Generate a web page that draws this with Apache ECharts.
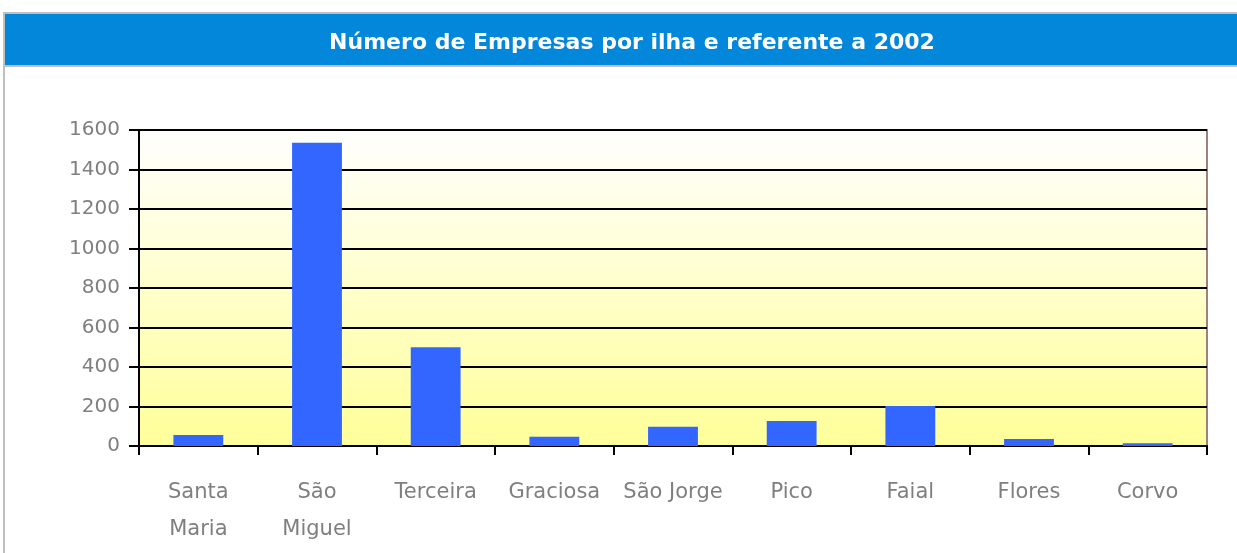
<!DOCTYPE html>
<html>
<head>
<meta charset="utf-8">
<script src="https://cdn.jsdelivr.net/npm/echarts@6/dist/echarts.min.js"></script>
<style>
  html, body { margin: 0; padding: 0; background: #fff; }
  #main { width: 1237px; height: 553px; }
</style>
</head>
<body>
<div id="main"></div>
<script>
// dados
var ilhas = ['Santa\nMaria', 'São\nMiguel', 'Terceira', 'Graciosa', 'São Jorge', 'Pico', 'Faial', 'Flores', 'Corvo'];
var empresas = [56, 1535, 500, 47, 98, 127, 202, 35, 14];
var titulo = 'Número de Empresas por ilha e referente a 2002';

var myChart = echarts.init(document.getElementById('main'));

var option = {
    backgroundColor: '#fff',
    animation: false,
    graphic: [
        // faixa azul do titulo
        { type: 'rect', shape: { x: 4, y: 14, width: 1233, height: 51 }, style: { fill: '#0387da' } },
        // moldura cinza
        { type: 'line', shape: { x1: 3, y1: 13, x2: 1237, y2: 13 }, style: { stroke: '#c0c0c0', lineWidth: 2 } },
        { type: 'line', shape: { x1: 4, y1: 13, x2: 4, y2: 553 }, style: { stroke: '#c0c0c0', lineWidth: 2 } },
        { type: 'line', shape: { x1: 4, y1: 66, x2: 1237, y2: 66 }, style: { stroke: '#c0c0c0', lineWidth: 2 } }
    ],
    title: {
        text: titulo,
        left: 627,
        textAlign: 'center',
        top: 27,
        textStyle: {
            color: '#fff',
            fontFamily: 'DejaVu Sans',
            fontWeight: 'bold',
            fontSize: 22
        }
    },
    grid: {
        left: 139,
        right: 30,
        top: 130,
        bottom: 107,
        outerBoundsMode: 'none',
        show: true,
        borderColor: '#a07f7f',
        borderWidth: 2,
        backgroundColor: {
            type: 'linear', x: 0, y: 0, x2: 0, y2: 1,
            colorStops: [
                { offset: 0, color: '#ffffff' },
                { offset: 1, color: '#ffff99' }
            ]
        }
    },
    xAxis: {
        type: 'category',
        data: ilhas,
        axisLine: { lineStyle: { color: '#000', width: 2 } },
        axisTick: { show: true, length: 9, lineStyle: { color: '#000', width: 2 } },
        axisLabel: {
            interval: 0,
            margin: 28,
            color: '#7f7f7f',
            fontFamily: 'DejaVu Sans',
            fontSize: 21,
            lineHeight: 37
        }
    },
    yAxis: {
        type: 'value',
        min: 0,
        max: 1600,
        interval: 200,
        axisLine: { show: true, lineStyle: { color: '#000', width: 2 } },
        axisTick: { show: true, length: 10, lineStyle: { color: '#000', width: 2 } },
        axisLabel: {
            margin: 19,
            color: '#7f7f7f',
            fontFamily: 'DejaVu Sans',
            fontSize: 20,
            formatter: function (v) {
                return String(v);
            }
        },
        splitLine: { lineStyle: { color: '#000', width: 2 } }
    },
    series: [
        {
            type: 'bar',
            name: 'Empresas',
            data: empresas,
            barWidth: '42%',
            itemStyle: { color: '#3366ff' }
        }
    ]
};
myChart.setOption(option);
</script>
</body>
</html>
